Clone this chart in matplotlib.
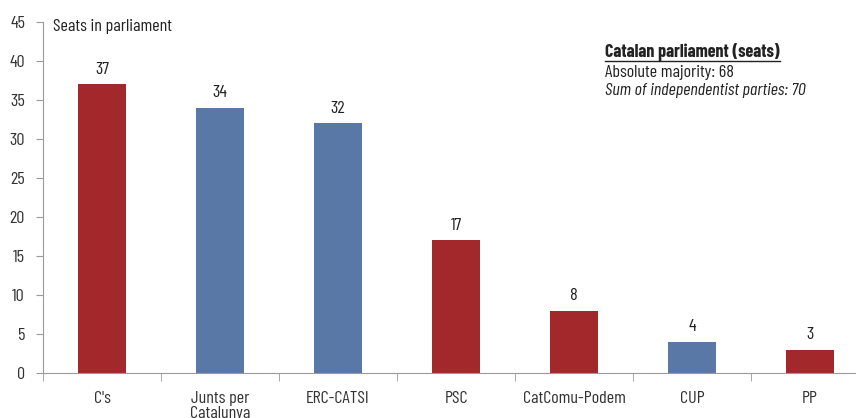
import numpy as np
import matplotlib.pyplot as plt
from matplotlib import font_manager

parties = ["C's", "Junts per\nCatalunya", "ERC-CATSI", "PSC", "CatComu-Podem", "CUP", "PP"]
seats = [37, 34, 32, 17, 8, 4, 3]
independentist = [False, True, True, False, False, True, False]

red = "#a3282b"
blue = "#5a78a6"
grey = "#9a9a9a"

names = {f.name for f in font_manager.fontManager.ttflist}
fam = next((n for n in ["Barlow Condensed", "Archivo Narrow", "Asap Condensed"] if n in names), "DejaVu Sans")
plt.rcParams['font.family'] = [fam, 'DejaVu Sans']
fs = 13

fig = plt.figure(figsize=(8.56, 4.18), dpi=100)
ax = fig.add_axes([43 / 856, 45 / 418, 826 / 856, 351 / 418])

x = np.arange(len(parties))
colors = [blue if i else red for i in independentist]
ax.bar(x, seats, width=0.41, color=colors)
for xi, v in zip(x, seats):
    ax.text(xi, v + 1.0, str(v), ha='center', va='bottom', fontsize=fs, color='#222222')

ax.set_xlim(-0.5, len(parties) - 0.5)
ax.set_ylim(0, 45)
ax.set_yticks(np.arange(0, 46, 5))
ax.set_xticks(x)
ax.set_xticklabels(parties, fontsize=fs, color='#333333', linespacing=1.0)
ax.set_xticks(np.arange(-0.5, len(parties), 1), minor=True)
ax.tick_params(axis='x', which='major', length=0, pad=13)
ax.tick_params(axis='x', which='minor', length=6, color=grey, direction='out')
ax.tick_params(axis='y', length=5, color=grey, labelsize=fs, labelcolor='#333333', pad=8)

for s in ['top', 'right']:
    ax.spines[s].set_visible(False)
ax.spines['left'].set_color(grey)
ax.spines['bottom'].set_color(grey)

fig.text(53 / 856, 1 - 27 / 418, "Seats in parliament",
         fontsize=fs, color='#222222', ha='left', va='center')

t = fig.text(605 / 856, 1 - 52 / 418, "Catalan parliament (seats)", fontsize=fs,
             fontweight='bold', color='#222222', ha='left', va='center')
fig.canvas.draw()
bb = t.get_window_extent()
fig.add_artist(plt.Line2D([bb.x0 / fig.bbox.width, bb.x1 / fig.bbox.width],
                          [1 - 61 / 418, 1 - 61 / 418], transform=fig.transFigure,
                          color='#222222', lw=1))
fig.text(605 / 856, 1 - 72 / 418, "Absolute majority: 68", fontsize=fs,
         color='#222222', ha='left', va='center')
fig.text(605 / 856, 1 - 91 / 418, "Sum of independentist parties: 70", fontsize=fs,
         style='italic', color='#222222', ha='left', va='center')

fig.savefig("out.png", dpi=100)
